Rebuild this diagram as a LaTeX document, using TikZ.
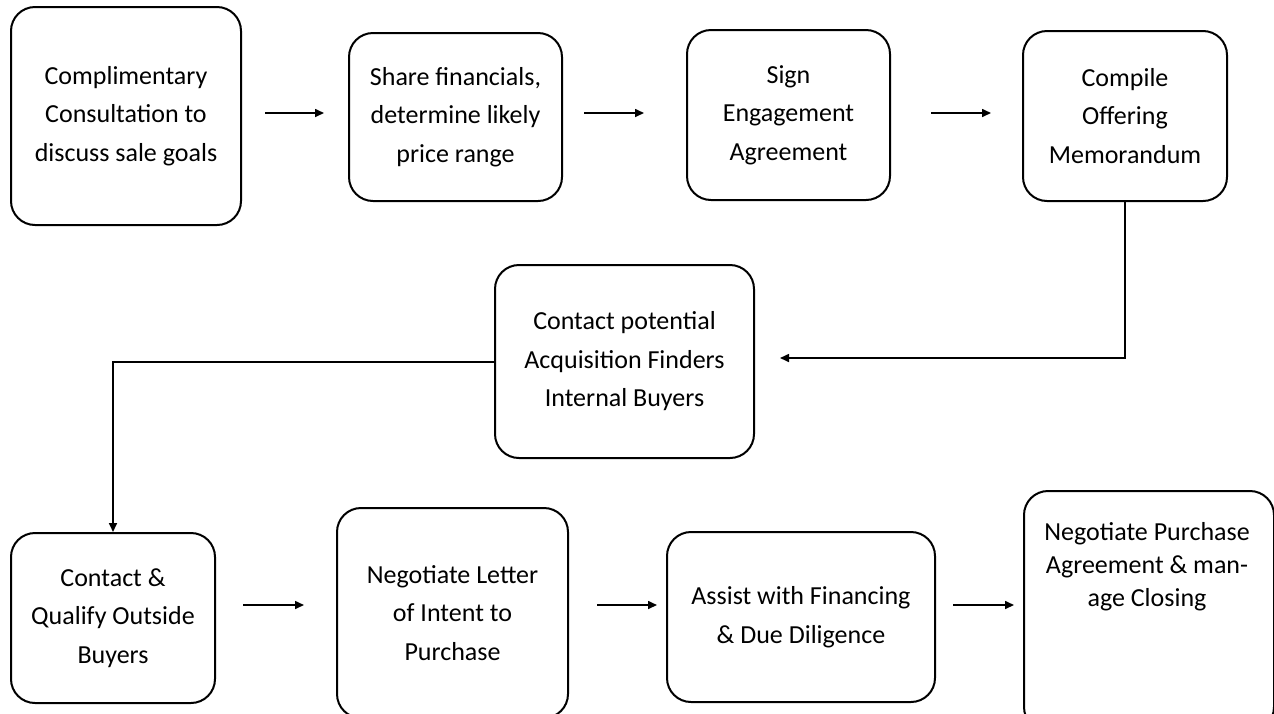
\documentclass[tikz,border=0pt]{standalone}
\usepackage{fontspec}
\setmainfont{Carlito}
\usetikzlibrary{arrows.meta}
\tikzset{
  box/.style={draw=black, line width=2pt, rounded corners=24pt, inner sep=0pt, align=center,
    font=\fontsize{26}{38.5}\selectfont},
  txt/.style={inner sep=0pt, align=center, font=\fontsize{26}{33}\selectfont},
  arr/.style={line width=1.6pt, -{Triangle[length=9pt,width=8pt]}},
}
\begin{document}
\begin{tikzpicture}[x=1pt,y=-1pt]
\useasboundingbox (0,0) rectangle (1274,713);
% top row
\node[box, minimum width=230pt, minimum height=218pt] (b1) at (126,116) {Complimentary\\Consultation to\\discuss sale goals};
\node[box, minimum width=213pt, minimum height=168pt] (b2) at (455.5,117) {Share financials,\\determine likely\\price range};
\node[box, minimum width=203pt, minimum height=170pt] (b3) at (788.5,115) {Sign\\Engagement\\Agreement};
\node[box, minimum width=204pt, minimum height=170pt] (b4) at (1125,116) {Compile\\Offering\\Memorandum};
% middle
\node[box, minimum width=259pt, minimum height=193pt] (b5) at (624.5,361.5) {Contact potential\\Acquisition Finders\\Internal Buyers};
% bottom row
\node[box, minimum width=204pt, minimum height=170pt] (b6) at (113,618) {Contact \&\\Qualify Outside\\Buyers};
\node[box, minimum width=231pt, minimum height=210pt] (b7) at (452.5,613) {Negotiate Letter\\of Intent to\\Purchase};
\node[box, minimum width=268pt, minimum height=170pt] (b8) at (801,617) {Assist with Financing\\\& Due Diligence};
\node[box, minimum width=250pt, minimum height=240pt, anchor=north west] (b9) at (1023,490) {};
\node[txt] (t9) at (1147,567) {Negotiate Purchase\\Agreement \& man-\\age Closing};
% connectors top row
\draw[arr, shorten <=23pt, shorten >=24pt] (b1.east |- 0,113) -- (b2.west |- 0,113);
\draw[arr, shorten <=21pt, shorten >=42pt] (b2.east |- 0,113) -- (b3.west |- 0,113);
\draw[arr, shorten <=40pt, shorten >=31pt] (b3.east |- 0,113) -- (b4.west |- 0,113);
% elbow connectors
\coordinate (e1) at (780,358);
\draw[arr] (b4.south) |- (e1);
\draw[arr] (b5.west |- 0,362) -| (b6.north);
% connectors bottom row
\draw[arr, shorten <=27pt, shorten >=32pt] (b6.east |- 0,605) -- (b7.west |- 0,605);
\draw[arr, shorten <=28pt, shorten >=9pt] (b7.east |- 0,605) -- (b8.west |- 0,605);
\draw[arr, shorten <=17pt, shorten >=9pt] (b8.east |- 0,605) -- (b9.west |- 0,605);
\end{tikzpicture}
\end{document}
